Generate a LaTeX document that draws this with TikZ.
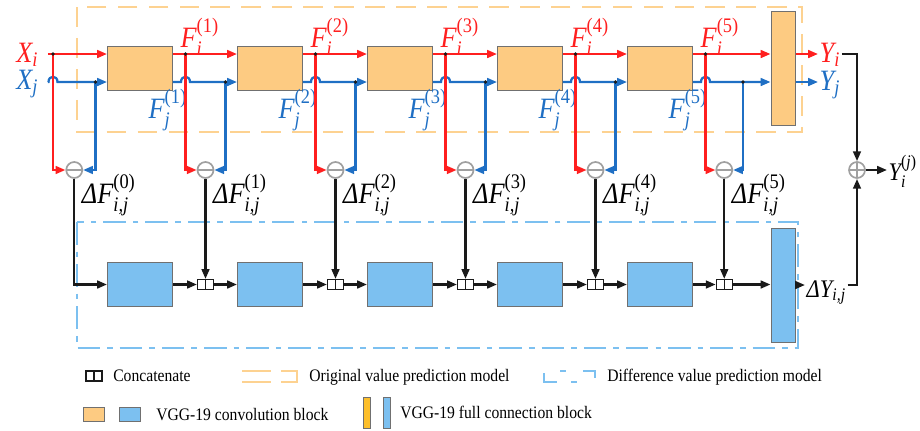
\documentclass[tikz,border=0pt]{standalone}
\usepackage{amsmath}
\usepackage{fontspec}
\setmainfont{Liberation Serif}[FakeStretch=0.89]
\usetikzlibrary{arrows.meta,positioning,calc}
\definecolor{vgFill}{HTML}{FDCB82}
\definecolor{vgSky}{HTML}{7CC0F0}
\definecolor{vgGold}{HTML}{FDBF2B}
\definecolor{vgRed}{HTML}{FF1F1F}
\definecolor{vgBlue}{HTML}{1F6FC4}
\definecolor{vgDash}{HTML}{FDD291}
\definecolor{vgEdge}{HTML}{707070}
\definecolor{vgRing}{HTML}{A0A0A0}
\definecolor{vgInk}{HTML}{1A1A1A}
\newcommand{\vi}[1]{\textit{#1}}
\tikzset{
  blk/.style={draw=vgEdge,line width=0.7pt,inner sep=0pt,minimum width=1.625cm,minimum height=1.1cm},
  oblk/.style={blk,fill=vgFill},
  dblk/.style={blk,fill=vgSky},
  tall/.style={minimum width=0.6cm,minimum height=2.85cm},
  flow/.style={line width=1.6pt,-{Triangle[length=7pt,width=5.5pt]}},
  rflow/.style={flow,draw=vgRed},
  bflow/.style={flow,draw=vgBlue},
  kflow/.style={flow,draw=vgInk},
  subop/.style={circle,draw=vgRing,fill=white,line width=1.2pt,minimum size=0.4cm,inner sep=0pt,
    path picture={\draw[vgRing,line width=1.2pt] (path picture bounding box.west) -- (path picture bounding box.east);}},
  addop/.style={circle,draw=vgRing,fill=white,line width=1.2pt,minimum size=0.4cm,inner sep=0pt,
    path picture={\draw[vgRing,line width=1.2pt] (path picture bounding box.west) -- (path picture bounding box.east)
      (path picture bounding box.north) -- (path picture bounding box.south);}},
  cat/.style={draw=vgInk,fill=white,line width=0.8pt,minimum width=0.4cm,minimum height=0.25cm,inner sep=0pt,
    path picture={\draw[vgInk,line width=0.8pt] (path picture bounding box.north) -- (path picture bounding box.south);}},
  jdot/.style={circle,fill=vgInk,inner sep=0pt,minimum size=2.6pt},
  symlbl/.style={font=\fontsize{21}{24}\selectfont,inner sep=1pt},
  smlbl/.style={font=\fontsize{18}{20}\selectfont,inner sep=1pt},
  legtxt/.style={font=\fontsize{12.5}{15}\selectfont,inner sep=0pt,anchor=base west},
  odash/.style={draw=vgDash,line width=1.5pt,dash pattern=on 14pt off 8pt},
  bdash/.style={draw=vgSky,line width=1.5pt,dash pattern=on 16pt off 5pt on 4pt off 5pt},
  legline/.style={line width=1.5pt},
}
\begin{document}
\begin{tikzpicture}[x=0.025cm,y=-0.025cm]
  \useasboundingbox (0,0) rectangle (920,430);
  \draw[odash] (77,7) rectangle (802,132);
  \draw[bdash] (77,222) rectangle (798,348);
  \coordinate (rl) at (0,54);
  \coordinate (bl) at (0,82);
  \node[inner sep=0pt] at (47,68) (xin) {};
  \node[symlbl,text=vgRed,anchor=base east] at (40,62) (xi) {$\vi{X}_{\vi{i}}$};
  \node[symlbl,text=vgBlue,anchor=base east] at (40,89) (xj) {$\vi{X}_{\vi{j}}$};

  \foreach \k in {1,...,5}{
    \node[oblk] at ({140+130*(\k-1)},68) (o\k) {};
    \node[dblk] at ({140+130*(\k-1)},284.5) (d\k) {};
    \node[symlbl,text=vgRed,anchor=base west] at ({179+130*(\k-1)},47) (fi\k) {$\vi{F}_{\vi{i}}^{\text{(\k)}}$};
    \node[symlbl,text=vgBlue,anchor=base west] at ({147+130*(\k-1)},118) (fj\k) {$\vi{F}_{\vi{j}}^{\text{(\k)}}$};
  }
  \node[oblk,tall] at (783,68.5) (of) {};
  \node[dblk,tall] at (783,285) (df) {};

  \foreach \k/\src/\dst/\rx/\bx in {0/xin/o1/53/95.5,1/o1/o2/185.5/225.5,2/o2/o3/315.5/355.5,
      3/o3/o4/445.5/485.5,4/o4/o5/575.5/615.5,5/o5/of/705.5/743}{
    \coordinate (r\k) at (\rx,54);
    \coordinate (b\k) at (\bx,82);
    \node[subop] at ({(\rx+\bx)/2},170) (m\k) {};
    \draw[rflow] (\src.east|-rl) -- (\dst.west|-rl);
    \draw[bflow] (\src.east|-bl) -- ($(r\k|-bl)+(-4.5,0)$) .. controls +(0,-7) and +(0,-7) .. ($(r\k|-bl)+(4.5,0)$)
      -- (\dst.west|-bl);
    \draw[rflow] (r\k) -- (r\k|-m\k) -- (m\k.west);
    \draw[bflow] (b\k) -- (b\k|-m\k) -- (m\k.east);
    \node[jdot] at (r\k) {};
    \node[jdot] at (b\k) {};
    \node[symlbl,anchor=base west] at ($(m\k)+(6,33)$) (g\k) {$\vi{Δ}\vi{F}_{\vi{i,j}}^{\text{(\k)}}$};
  }

  \draw[kflow] (m0.south) -- (m0|-d1.west) -- (d1.west);
  \foreach \k/\nxt in {1/d2,2/d3,3/d4,4/d5,5/df}{
    \node[cat] at (m\k|-d1) (c\k) {};
    \draw[kflow] (m\k.south) -- (c\k.north);
    \draw[kflow] (d\k.east) -- (c\k.west);
    \draw[kflow] (c\k.east) -- (\nxt.west|-c\k);
  }

  \node[symlbl,text=vgRed,anchor=base west] at (818,62) (yi) {$\vi{Y}_{\vi{i}}$};
  \node[symlbl,text=vgBlue,anchor=base west] at (818,90) (yj) {$\vi{Y}_{\vi{j}}$};
  \draw[rflow] (of.east|-rl) -- (yi.west|-rl);
  \draw[bflow] (of.east|-bl) -- (yj.west|-bl);
  \node[addop] at (857,170) (p) {};
  \node[smlbl,anchor=base west] at (887,180) (yo) {$\vi{Y}_{\vi{i}}^{\text{(\textit{j})}}$};
  \node[smlbl,anchor=base west] at (805,297) (dy) {$\vi{Δ}\vi{Y}_{\vi{i,j}}$};
  \draw[kflow] (yi.east|-rl) -- (p|-rl) -- (p.north);
  \draw[kflow] (p.east) -- (yo.west|-p);
  \draw[kflow] (df.east) -- (dy.west|-df.east);
  \draw[kflow] (dy.east|-df.east) -- (p|-df.east) -- (p.south);

  \node[cat] at (94,376) (lc) {};
  \node[legtxt] at (113,381) (lct) {Concatenate};
  \draw[legline,draw=vgDash] (242,371) -- (271,371) (242,382) -- (271,382)
    (281,371) -- (297,371) -- (297,382) -- (281,382);
  \node[legtxt] at (309,381) (lot) {Original value prediction model};
  \draw[legline,draw=vgSky] (544,373) -- (544,382) -- (557,382) (560,371) -- (566,371)
    (571,382) -- (577,382) (583,371) -- (595,371) -- (595,378);
  \node[legtxt] at (607,381) (ldt) {Difference value prediction model};
  \node[blk,fill=vgFill,minimum width=0.525cm,minimum height=0.35cm] at (93.5,414) (lo) {};
  \node[blk,fill=vgSky,minimum width=0.525cm,minimum height=0.35cm] at (130,414) (ls) {};
  \node[legtxt] at (156,420) (lvt) {VGG-19 convolution block};
  \node[blk,fill=vgGold,minimum width=0.175cm,minimum height=0.775cm] at (366.5,412.5) (lg) {};
  \node[blk,fill=vgSky,minimum width=0.175cm,minimum height=0.775cm] at (386.5,412.5) (lf) {};
  \node[legtxt] at (400,418) (lft) {VGG-19 full connection block};
\end{tikzpicture}
\end{document}
